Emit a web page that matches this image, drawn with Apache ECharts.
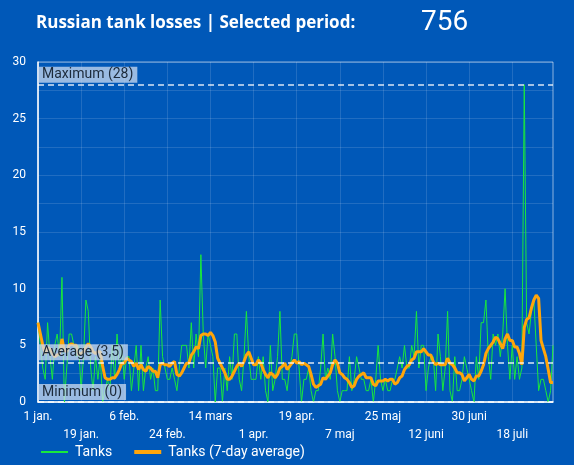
<!DOCTYPE html>
<html>
<head>
<meta charset="utf-8">
<script src="https://cdn.jsdelivr.net/npm/echarts@6/dist/echarts.min.js"></script>
<style>
    html, body { margin: 0; padding: 0; background: #0058b8; }
    #chart { width: 574px; height: 465px; }
</style>
</head>
<body>
<div id="chart"></div>
<script>
// daily tank losses, 1 jan. 2023 onwards
const tanks = [
    7, 5, 3, 2, 7, 4, 2, 5, 6, 4,
    11, 0, 3, 6, 6, 5, 4, 5, 1, 4,
    9, 8, 3, 1, 4, 2, 4, 0, 1, 2,
    1, 5, 2, 6, 3, 5, 2, 4, 4, 1,
    3, 5, 1, 5, 1, 3, 4, 2, 3, 1,
    1, 9, 4, 3, 2, 2, 3, 2, 1, 3,
    5, 5, 5, 3, 7, 3, 6, 4, 13, 6,
    3, 6, 5, 4, 0, 3, 3, 0, 3, 1,
    4, 2, 6, 6, 2, 1, 4, 8, 4, 2,
    2, 2, 4, 2, 4, 1, 0, 5, 1, 2,
    4, 8, 2, 2, 1, 3, 4, 6, 6, 3,
    0, 2, 2, 3, 1, 0, 1, 1, 3, 6,
    2, 3, 2, 6, 4, 1, 0, 1, 1, 1,
    4, 1, 2, 4, 3, 2, 2, 1, 1, 2,
    0, 2, 5, 2, 1, 2, 1, 1, 2, 2,
    3, 4, 3, 5, 3, 3, 5, 4, 8, 3,
    5, 5, 1, 3, 4, 4, 1, 6, 4, 1,
    3, 8, 1, 0, 4, 1, 1, 2, 4, 3,
    2, 1, 0, 4, 2, 7, 7, 9, 4, 2,
    6, 5, 6, 4, 6, 10, 5, 2, 5, 2,
    4, 2, 3, 28, 7, 6, 8, 9, 5, 1,
    2, 2, 1, 0, 1, 5
];
const monthNames = ['jan.', 'feb.', 'mars', 'apr.', 'maj', 'juni', 'juli', 'aug.'];
const startDay = Date.UTC(2023, 0, 1);
const labelStep = 18;
const yTicks = [0, 5, 10, 15, 20, 25, 30];

let days = [];
for (let i = 0; i < tanks.length; i++) {
    const d = new Date(startDay + i * 86400000);
    days.push(d.getUTCDate() + ' ' + monthNames[d.getUTCMonth()]);
}

// 7-day trailing average
let avg7 = [];
for (let i = 0; i < tanks.length; i++) {
    const part = tanks.slice(Math.max(0, i - 6), i + 1);
    avg7.push(+(part.reduce((a, b) => a + b, 0) / part.length).toFixed(2));
}
const total = tanks.reduce((a, b) => a + b, 0);

const comma = v => String(+v.toFixed(1)).replace('.', ',');
const markLabel = (name) => ({
    show: true,
    position: 'insideStartTop',
    distance: [0, 2],
    formatter: p => name + ' (' + comma(p.value) + ')',
    color: '#1c2a3a',
    fontFamily: 'Roboto',
    fontSize: 14,
    backgroundColor: 'rgba(205,220,240,0.75)',
    padding: [1, 4, 1, 4]
});

let chart = echarts.init(document.getElementById('chart'));
let option = {
    backgroundColor: '#0058b8',
    animation: false,
    title: [
        {
            text: 'Russian tank losses | Selected period:',
            left: 31, top: 10,
            textStyle: { color: '#fff', fontFamily: 'Open Sans', fontWeight: 'bold', fontSize: 17 }
        },
        {
            text: String(total),
            left: 416, top: 4,
            textStyle: { color: '#fff', fontFamily: 'Roboto', fontWeight: 'normal', fontSize: 28 }
        }
    ],
    grid: {
        left: 38, right: 21, top: 62, bottom: 63,
        show: true, borderColor: 'rgba(255,255,255,0.55)', borderWidth: 1
    },
    legend: {
        left: 36, bottom: 1,
        itemWidth: 27, itemHeight: 14, itemGap: 22,
        symbolKeepAspect: true,
        textStyle: { color: '#fff', fontFamily: 'Roboto', fontSize: 14, padding: [0, 0, 0, 2] },
        data: [
            { name: 'Tanks', icon: 'path://M0,0H27V2H0Z' },
            { name: 'Tanks (7-day average)', icon: 'path://M0,0H27V4H0Z' }
        ]
    },
    xAxis: {
        type: 'category',
        boundaryGap: false,
        data: days,
        axisLine: { lineStyle: { color: '#fff', width: 1.5 } },
        axisTick: { show: false },
        axisLabel: {
            interval: labelStep - 1,
            color: '#fff',
            fontFamily: 'Roboto',
            fontSize: 12,
            lineHeight: 18,
            margin: 6,
            formatter: (v, i) => (Math.round(i / labelStep) % 2 ? '\n' + v : v)
        },
        splitLine: { show: true, interval: labelStep - 1, lineStyle: { color: 'rgba(255,255,255,0.13)' } }
    },
    yAxis: {
        type: 'value',
        min: yTicks[0], max: yTicks[yTicks.length - 1], interval: 5,
        axisLine: { show: true, lineStyle: { color: '#fff', width: 1.5 } },
        axisLabel: { color: '#fff', fontFamily: 'Roboto', fontSize: 12, margin: 12 },
        splitLine: { lineStyle: { color: 'rgba(255,255,255,0.13)' } },
        minorTick: { show: false, splitNumber: 2 },
        minorSplitLine: { show: true, lineStyle: { color: 'rgba(255,255,255,0.13)' } }
    },
    series: [
        {
            name: 'Tanks',
            type: 'line',
            data: tanks,
            showSymbol: false,
            symbol: 'none',
            itemStyle: { color: '#19e83c' },
            lineStyle: { color: '#19e83c', width: 1 },
            markLine: {
                silent: true,
                symbol: 'none',
                z: 10,
                lineStyle: { color: 'rgba(255,255,255,0.85)', type: [6, 4], width: 1.5 },
                data: [
                    { type: 'max', label: markLabel('Maximum') },
                    { type: 'average', label: markLabel('Average') },
                    { type: 'min', label: markLabel('Minimum') }
                ]
            }
        },
        {
            name: 'Tanks (7-day average)',
            type: 'line',
            data: avg7,
            showSymbol: false,
            symbol: 'none',
            z: 3,
            itemStyle: { color: '#ffa50a' },
            lineStyle: { color: '#ffa50a', width: 3 }
        }
    ]
};
option && chart.setOption(option);
</script>
</body>
</html>
